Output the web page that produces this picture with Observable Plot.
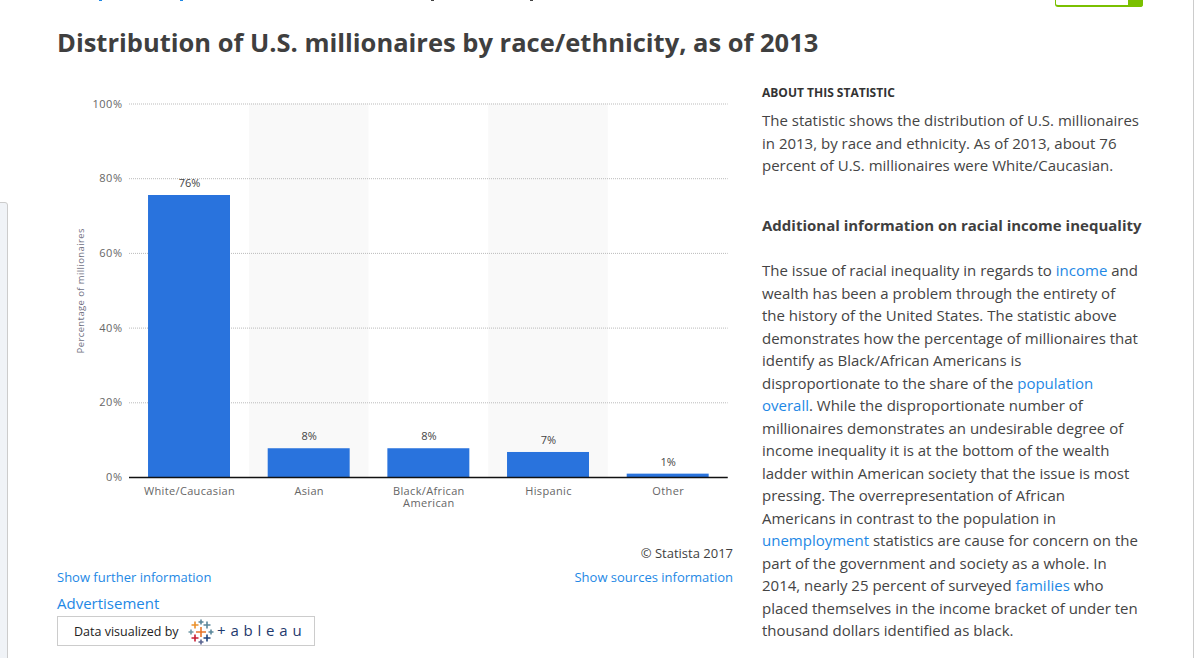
<!DOCTYPE html>
<html><head><meta charset="utf-8">
<script src="https://cdn.jsdelivr.net/npm/d3@7"></script>
<script src="https://cdn.jsdelivr.net/npm/@observablehq/plot@0.6"></script>
<style>
html,body{margin:0;padding:0;background:#fff;overflow:hidden}
body{width:1194px;height:658px;position:relative;font-family:"Open Sans",sans-serif;color:#3f3f3f}
.a{position:absolute;white-space:nowrap}
a,.l{color:#1e88e5;text-decoration:none}
#chart{position:absolute;left:0;top:0}
.para p{margin:0;font-size:15px;line-height:22.5px;white-space:nowrap;color:#444}
g.xt text{letter-spacing:.35px}
g.yt text{letter-spacing:.5px}
g.yl text{letter-spacing:.4px}
</style></head><body>
<div class="a" style="left:-4px;top:202px;width:10px;height:470px;border:1px solid #ccc;border-radius:3px;background:#f0f3f7"></div>
<div class="a" style="left:1193px;top:0;width:1px;height:658px;background:#ccc"></div>
<div class="a" style="left:99px;top:0;width:3px;height:1px;background:#1e88e5"></div>
<div class="a" style="left:180px;top:0;width:3px;height:1px;background:#1e88e5"></div>
<div class="a" style="left:431px;top:0;width:3px;height:1px;background:#444"></div>
<div class="a" style="left:530px;top:0;width:3px;height:1px;background:#444"></div>
<div class="a" style="left:1055px;top:-10px;width:87px;height:15px;border:1px solid #7ac000;border-width:0 0 2px 1px;border-radius:0 0 3px 3px;box-sizing:content-box"></div>
<div class="a" style="left:1128px;top:0;width:15px;height:7px;background:#7ac000;border-radius:0 0 3px 0"></div>
<div class="a" style="left:57px;top:25px;font-size:25.5px;font-weight:700;line-height:34px">Distribution of U.S. millionaires by race/ethnicity, as of 2013</div>
<div id="chart"></div>
<div class="a" style="right:461px;top:545px;font-size:13px;line-height:17px">© Statista 2017</div>
<div class="a l" style="left:57px;top:569px;font-size:13px;line-height:17px">Show further information</div>
<div class="a l" style="right:461px;top:569px;font-size:13px;line-height:17px">Show sources information</div>
<div class="a l" style="left:57px;top:593px;font-size:15px;line-height:20px">Advertisement</div>
<div class="a" style="left:57px;top:616px;width:256px;height:28px;border:1px solid #ccc;background:#fff">
  <span class="a" style="left:16px;top:5.5px;font-size:12.5px;line-height:17px;color:#222">Data visualized by</span>
  <svg class="a" id="logo" style="left:130px;top:2px" width="26" height="26" viewBox="0 0 26 26"></svg>
  <span class="a" style="left:159px;top:3px;font-size:15px;line-height:20px;letter-spacing:4.8px;color:#1f3a6e">+ableau</span>
</div>
<div class="a" style="left:762px;top:85px;font-size:12px;font-weight:700;line-height:16px;color:#333">ABOUT THIS STATISTIC</div>
<div class="a para" style="left:762px;top:109px;">
<p>The statistic shows the distribution of U.S. millionaires</p>
<p>in 2013, by race and ethnicity. As of 2013, about 76</p>
<p>percent of U.S. millionaires were White/Caucasian.</p>
</div>
<div class="a" style="left:762px;top:215px;font-size:15px;font-weight:700;line-height:20px;color:#3f3f3f">Additional information on racial income inequality</div>
<div class="a para" style="left:762px;top:259px;">
<p>The issue of racial inequality in regards to <a>income</a> and</p>
<p>wealth has been a problem through the entirety of</p>
<p>the history of the United States. The statistic above</p>
<p>demonstrates how the percentage of millionaires that</p>
<p>identify as Black/African Americans is</p>
<p>disproportionate to the share of the <a>population</a></p>
<p><a>overall</a>. While the disproportionate number of</p>
<p>millionaires demonstrates an undesirable degree of</p>
<p>income inequality it is at the bottom of the wealth</p>
<p>ladder within American society that the issue is most</p>
<p>pressing. The overrepresentation of African</p>
<p>Americans in contrast to the population in</p>
<p><a>unemployment</a> statistics are cause for concern on the</p>
<p>part of the government and society as a whole. In</p>
<p>2014, nearly 25 percent of surveyed <a>families</a> who</p>
<p>placed themselves in the income bracket of under ten</p>
<p>thousand dollars identified as black.</p>
</div>
<script>
const categories = ["White/Caucasian","Asian","Black/African\nAmerican","Hispanic","Other"];
const shares = [75.5,7.7,7.7,6.7,0.9];
const labels = ["76%","8%","8%","7%","1%"];
const shaded = ["Asian","Hispanic"];
const yTicks = [0,20,40,60,80,100];
const rows = categories.map((c,i)=>({c,v:shares[i],t:labels[i]}));
const plot = Plot.plot({
  width:750,height:530,
  marginLeft:129,marginRight:22.3,marginTop:103.5,marginBottom:53,
  style:{background:"transparent",fontFamily:"'Open Sans',sans-serif",overflow:"visible"},
  x:{domain:categories,paddingInner:0.315,paddingOuter:0.159,round:false,label:null},
  y:{domain:[0,100],label:null},
  marks:[
    Plot.barY(shaded,{x:d=>d,y1:0,y2:100,fill:"#f9f9f9",insetLeft:-18.8,insetRight:-18.8}),
    Plot.gridY(yTicks,{stroke:"#bbb",strokeOpacity:1,strokeDasharray:"1 1",strokeWidth:1}),
    Plot.barY(rows,{x:"c",y:"v",fill:"#2973dd"}),
    Plot.ruleY([0],{stroke:"#111",strokeWidth:1.5}),
    Plot.text(rows,{x:"c",y:"v",text:"t",dy:-12,fontSize:11,fill:"#444"}),
    Plot.axisY(yTicks,{className:"yt",tickSize:0,tickPadding:7,tickFormat:d=>d+"%",fontSize:11,color:"#666",label:null}),
    Plot.axisX(categories,{className:"xt",tickSize:0,tickPadding:9,fontSize:11,color:"#666",lineHeight:1.09,label:null,textOverflow:null,lineWidth:Infinity}),
    Plot.text(["Percentage of millionaires"],{className:"yl",frameAnchor:"middle",dx:-348,rotate:-90,fontSize:9.5,fill:"#6f6f7f"})
  ]
});
document.getElementById("chart").appendChild(plot);
// tableau logo
const logo=d3.select("#logo");
const crosses=[[13,13,5,"#e8762b"],[13,3,2.5,"#5b879b"],[13,23,2.5,"#5b6591"],[7,6,3.5,"#eb912b"],[19,6,3.5,"#5b879b"],[7,19,3.5,"#c72035"],[19,19,3.5,"#1f447e"],[3,13,2.5,"#7099a6"],[23,13,2.5,"#5b879b"]];
crosses.forEach(([x,y,r,c])=>logo.append("path").attr("d",`M${x-r} ${y}H${x+r}M${x} ${y-r}V${y+r}`).attr("stroke",c).attr("stroke-width",1.6));
</script>
</body></html>
